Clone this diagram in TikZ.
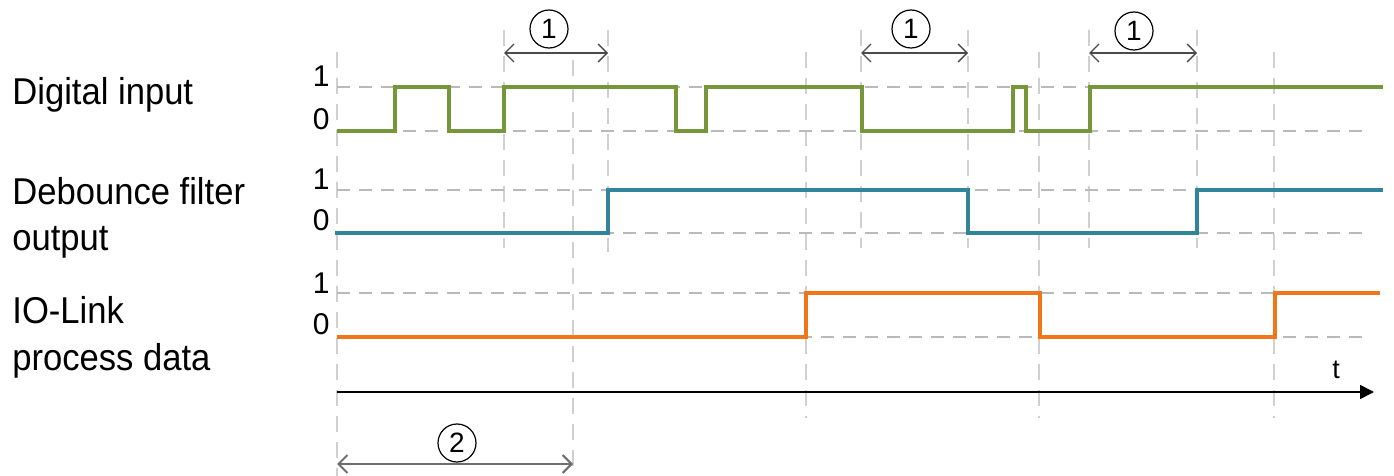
\documentclass[tikz,border=0pt]{standalone}
\usepackage{fontspec}
\setmainfont{Liberation Sans}
\usetikzlibrary{arrows.meta}
\definecolor{sgreen}{RGB}{118,150,58}
\definecolor{steal}{RGB}{49,133,155}
\definecolor{sorange}{RGB}{240,118,25}
\definecolor{hgray}{RGB}{185,185,185}
\definecolor{vgray}{RGB}{208,208,208}
\definecolor{agray}{RGB}{75,75,75}
\definecolor{bgray}{RGB}{110,110,110}
\begin{document}
\begin{tikzpicture}[x=0.5pt,y=-0.5pt,
  hdash/.style={hgray, line width=0.8pt, dash pattern=on 6.5pt off 4.5pt},
  vdash/.style={vgray, line width=0.8pt, dash pattern=on 8pt off 5pt},
  sig/.style={line width=1.7pt, line join=miter, line cap=butt},
  lbl/.style={font=\fontsize{17.3}{20}\selectfont, inner sep=0pt, anchor=base west},
  lvl/.style={font=\fontsize{15}{18}\selectfont, inner sep=0pt, anchor=base east},
  dimarrow/.style={agray, line width=0.7pt, {Straight Barb[length=4.5pt,width=9pt]}-{Straight Barb[length=4.5pt,width=9pt]}},
  circnum/.style={circle, draw=black, line width=0.6pt, minimum size=19pt, inner sep=0pt, font=\fontsize{14}{16}\selectfont}
]
\useasboundingbox (0,0) rectangle (1394,476);

% vertical dashed guide lines
\foreach \x/\ya/\yb in {337/52/476, 504/30/248, 573/60/476, 608/30/252, 806/52/418, 861/30/248, 968/30/248, 1039/52/418, 1089/30/248, 1197/30/248, 1274/52/418}
  \draw[vdash] (\x,\ya) -- (\x,\yb);

% horizontal dashed level lines
\foreach \y in {87,131,190,233,293,337}
  \draw[hdash] (337,\y) -- (1368,\y);

% signal labels
\node[lbl] (lDI) at (12,105) {\scalebox{1}[1.08]{Digital input}};
\node[lbl] (lDB1) at (12,205) {\scalebox{1}[1.08]{Debounce filter}};
\node[lbl] (lDB2) at (12,250) {\scalebox{1}[1.08]{output}};
\node[lbl] (lIO1) at (12,323) {\scalebox{1}[1.08]{IO-Link}};
\node[lbl] (lIO2) at (12,370) {\scalebox{1}[1.08]{process data}};

% level labels
\node[lvl] (d1) at (330,87) {1};
\node[lvl] (d0) at (330,130) {0};
\node[lvl] (b1) at (330,190) {1};
\node[lvl] (b0) at (330,231) {0};
\node[lvl] (i1) at (330,293) {1};
\node[lvl] (i0) at (330,335) {0};

% digital input
\draw[sig, sgreen] (337,131) -- (395,131) -- (395,87) -- (449,87) -- (449,131) -- (504,131) -- (504,87)
  -- (676,87) -- (676,131) -- (706,131) -- (706,87) -- (862,87) -- (862,131) -- (1013,131) -- (1013,87)
  -- (1026,87) -- (1026,131) -- (1090,131) -- (1090,87) -- (1383,87);
% debounce filter output
\draw[sig, steal] (335,233) -- (608,233) -- (608,190) -- (968,190) -- (968,233) -- (1197,233) -- (1197,190) -- (1383,190);
% IO-Link process data
\draw[sig, sorange] (337,337) -- (806,337) -- (806,293) -- (1040,293) -- (1040,337) -- (1275,337) -- (1275,293) -- (1380,293);

% time axis
\coordinate (t0) at (337,392);
\coordinate (t1) at (1374,392);
\draw[black, line width=0.8pt, -{Triangle[length=7pt,width=7pt]}] (t0) -- (t1);
\node[font=\fontsize{13.5}{16}\selectfont, inner sep=0pt, anchor=base] (tl) at (1336,379) {t};

% filter time arrows (1)
\coordinate (a1s) at (504,53); \coordinate (a1e) at (608,53);
\coordinate (a2s) at (861,53); \coordinate (a2e) at (968,53);
\coordinate (a3s) at (1089,53); \coordinate (a3e) at (1197,53);
\draw[dimarrow] (a1s) -- (a1e);
\draw[dimarrow] (a2s) -- (a2e);
\draw[dimarrow] (a3s) -- (a3e);
\node[circnum] (c1) at (549,29) {1};
\node[circnum] (c2) at (911,29) {1};
\node[circnum] (c3) at (1134,31) {1};

% cycle time arrow (2)
\coordinate (b2s) at (337,464); \coordinate (b2e) at (573,464);
\draw[bgray, line width=1pt, {Straight Barb[length=4.5pt,width=9pt]}-{Straight Barb[length=4.5pt,width=9pt]}] (b2s) -- (b2e);
\node[circnum] (c4) at (457,443) {2};
\end{tikzpicture}
\end{document}
